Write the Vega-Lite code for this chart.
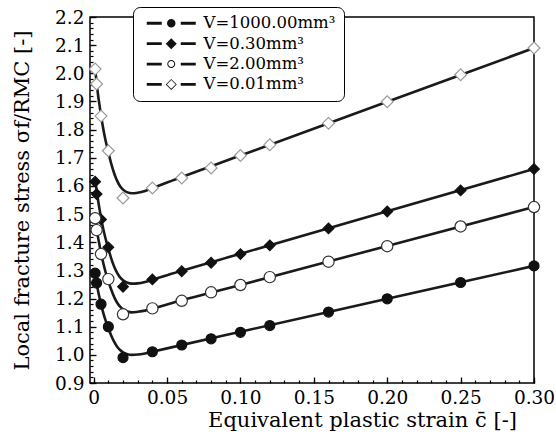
{
  "$schema": "https://vega.github.io/schema/vega-lite/v6.json",
  "width": 444,
  "height": 366,
  "autosize": "none",
  "padding": {"left": 90, "top": 17, "right": 22, "bottom": 56},
  "background": "white",
  "config": {
    "view": {"stroke": "black", "strokeWidth": 1.5},
    "font": "DejaVu Serif",
    "axis": {
      "labelFont": "DejaVu Serif",
      "labelFontSize": 18.5,
      "labelColor": "black",
      "titleFont": "DejaVu Serif",
      "titleFontSize": 21,
      "titleFontWeight": "normal",
      "titleColor": "black",
      "tickColor": "black",
      "grid": false,
      "domain": false
    }
  },
  "datasets": {
    "curves": [
      {"volume": "1000.00", "x": 0.001, "y": 1.286}, {"volume": "1000.00", "x": 0.002, "y": 1.255}, {"volume": "1000.00", "x": 0.003, "y": 1.227}, {"volume": "1000.00", "x": 0.004, "y": 1.203}, {"volume": "1000.00", "x": 0.005, "y": 1.180}, {"volume": "1000.00", "x": 0.0065, "y": 1.150}, {"volume": "1000.00", "x": 0.008, "y": 1.124}, {"volume": "1000.00", "x": 0.01, "y": 1.095}, {"volume": "1000.00", "x": 0.012, "y": 1.068}, {"volume": "1000.00", "x": 0.014, "y": 1.046}, {"volume": "1000.00", "x": 0.016, "y": 1.029}, {"volume": "1000.00", "x": 0.018, "y": 1.017}, {"volume": "1000.00", "x": 0.02, "y": 1.009}, {"volume": "1000.00", "x": 0.023, "y": 1.002}, {"volume": "1000.00", "x": 0.026, "y": 1.000}, {"volume": "1000.00", "x": 0.03, "y": 1.001}, {"volume": "1000.00", "x": 0.035, "y": 1.005}, {"volume": "1000.00", "x": 0.04, "y": 1.011}, {"volume": "1000.00", "x": 0.05, "y": 1.023}, {"volume": "1000.00", "x": 0.1, "y": 1.082}, {"volume": "1000.00", "x": 0.2, "y": 1.199}, {"volume": "1000.00", "x": 0.3, "y": 1.316},
      {"volume": "0.30", "x": 0.001, "y": 1.625}, {"volume": "0.30", "x": 0.002, "y": 1.585}, {"volume": "0.30", "x": 0.003, "y": 1.549}, {"volume": "0.30", "x": 0.004, "y": 1.517}, {"volume": "0.30", "x": 0.005, "y": 1.487}, {"volume": "0.30", "x": 0.0065, "y": 1.448}, {"volume": "0.30", "x": 0.008, "y": 1.415}, {"volume": "0.30", "x": 0.01, "y": 1.377}, {"volume": "0.30", "x": 0.012, "y": 1.342}, {"volume": "0.30", "x": 0.014, "y": 1.313}, {"volume": "0.30", "x": 0.016, "y": 1.291}, {"volume": "0.30", "x": 0.018, "y": 1.275}, {"volume": "0.30", "x": 0.02, "y": 1.265}, {"volume": "0.30", "x": 0.023, "y": 1.256}, {"volume": "0.30", "x": 0.026, "y": 1.253}, {"volume": "0.30", "x": 0.03, "y": 1.254}, {"volume": "0.30", "x": 0.035, "y": 1.259}, {"volume": "0.30", "x": 0.04, "y": 1.267}, {"volume": "0.30", "x": 0.05, "y": 1.283}, {"volume": "0.30", "x": 0.1, "y": 1.359}, {"volume": "0.30", "x": 0.2, "y": 1.510}, {"volume": "0.30", "x": 0.3, "y": 1.660},
      {"volume": "2.00", "x": 0.001, "y": 1.486}, {"volume": "2.00", "x": 0.002, "y": 1.449}, {"volume": "2.00", "x": 0.003, "y": 1.417}, {"volume": "2.00", "x": 0.004, "y": 1.389}, {"volume": "2.00", "x": 0.005, "y": 1.362}, {"volume": "2.00", "x": 0.0065, "y": 1.327}, {"volume": "2.00", "x": 0.008, "y": 1.296}, {"volume": "2.00", "x": 0.01, "y": 1.262}, {"volume": "2.00", "x": 0.012, "y": 1.231}, {"volume": "2.00", "x": 0.014, "y": 1.205}, {"volume": "2.00", "x": 0.016, "y": 1.185}, {"volume": "2.00", "x": 0.018, "y": 1.171}, {"volume": "2.00", "x": 0.02, "y": 1.162}, {"volume": "2.00", "x": 0.023, "y": 1.154}, {"volume": "2.00", "x": 0.026, "y": 1.151}, {"volume": "2.00", "x": 0.03, "y": 1.153}, {"volume": "2.00", "x": 0.035, "y": 1.157}, {"volume": "2.00", "x": 0.04, "y": 1.164}, {"volume": "2.00", "x": 0.05, "y": 1.179}, {"volume": "2.00", "x": 0.1, "y": 1.248}, {"volume": "2.00", "x": 0.2, "y": 1.387}, {"volume": "2.00", "x": 0.3, "y": 1.525},
      {"volume": "0.01", "x": 0.001, "y": 2.015}, {"volume": "0.01", "x": 0.002, "y": 1.967}, {"volume": "0.01", "x": 0.003, "y": 1.923}, {"volume": "0.01", "x": 0.004, "y": 1.886}, {"volume": "0.01", "x": 0.005, "y": 1.851}, {"volume": "0.01", "x": 0.0065, "y": 1.804}, {"volume": "0.01", "x": 0.008, "y": 1.764}, {"volume": "0.01", "x": 0.01, "y": 1.720}, {"volume": "0.01", "x": 0.012, "y": 1.678}, {"volume": "0.01", "x": 0.014, "y": 1.644}, {"volume": "0.01", "x": 0.016, "y": 1.618}, {"volume": "0.01", "x": 0.018, "y": 1.599}, {"volume": "0.01", "x": 0.02, "y": 1.587}, {"volume": "0.01", "x": 0.023, "y": 1.577}, {"volume": "0.01", "x": 0.026, "y": 1.574}, {"volume": "0.01", "x": 0.03, "y": 1.576}, {"volume": "0.01", "x": 0.035, "y": 1.582}, {"volume": "0.01", "x": 0.04, "y": 1.592}, {"volume": "0.01", "x": 0.05, "y": 1.612}, {"volume": "0.01", "x": 0.1, "y": 1.708}, {"volume": "0.01", "x": 0.2, "y": 1.899}, {"volume": "0.01", "x": 0.3, "y": 2.090}
    ],
    "markers": [
      {"volume": "1000.00", "x": 0.001, "y": 1.29}, {"volume": "1000.00", "x": 0.002, "y": 1.255}, {"volume": "1000.00", "x": 0.005, "y": 1.18}, {"volume": "1000.00", "x": 0.01, "y": 1.10}, {"volume": "1000.00", "x": 0.02, "y": 0.99}, {"volume": "1000.00", "x": 0.04, "y": 1.011}, {"volume": "1000.00", "x": 0.06, "y": 1.035}, {"volume": "1000.00", "x": 0.08, "y": 1.057}, {"volume": "1000.00", "x": 0.10, "y": 1.08}, {"volume": "1000.00", "x": 0.12, "y": 1.104}, {"volume": "1000.00", "x": 0.16, "y": 1.152}, {"volume": "1000.00", "x": 0.20, "y": 1.199}, {"volume": "1000.00", "x": 0.25, "y": 1.257}, {"volume": "1000.00", "x": 0.30, "y": 1.316},
      {"volume": "0.30", "x": 0.001, "y": 1.615}, {"volume": "0.30", "x": 0.002, "y": 1.571}, {"volume": "0.30", "x": 0.005, "y": 1.481}, {"volume": "0.30", "x": 0.01, "y": 1.382}, {"volume": "0.30", "x": 0.02, "y": 1.242}, {"volume": "0.30", "x": 0.04, "y": 1.268}, {"volume": "0.30", "x": 0.06, "y": 1.297}, {"volume": "0.30", "x": 0.08, "y": 1.327}, {"volume": "0.30", "x": 0.10, "y": 1.358}, {"volume": "0.30", "x": 0.12, "y": 1.389}, {"volume": "0.30", "x": 0.16, "y": 1.449}, {"volume": "0.30", "x": 0.20, "y": 1.509}, {"volume": "0.30", "x": 0.25, "y": 1.584}, {"volume": "0.30", "x": 0.30, "y": 1.66},
      {"volume": "2.00", "x": 0.001, "y": 1.485}, {"volume": "2.00", "x": 0.002, "y": 1.443}, {"volume": "2.00", "x": 0.005, "y": 1.358}, {"volume": "2.00", "x": 0.01, "y": 1.269}, {"volume": "2.00", "x": 0.02, "y": 1.144}, {"volume": "2.00", "x": 0.04, "y": 1.165}, {"volume": "2.00", "x": 0.06, "y": 1.192}, {"volume": "2.00", "x": 0.08, "y": 1.222}, {"volume": "2.00", "x": 0.10, "y": 1.248}, {"volume": "2.00", "x": 0.12, "y": 1.276}, {"volume": "2.00", "x": 0.16, "y": 1.331}, {"volume": "2.00", "x": 0.20, "y": 1.386}, {"volume": "2.00", "x": 0.25, "y": 1.456}, {"volume": "2.00", "x": 0.30, "y": 1.525},
      {"volume": "0.01", "x": 0.001, "y": 2.015}, {"volume": "0.01", "x": 0.002, "y": 1.962}, {"volume": "0.01", "x": 0.005, "y": 1.848}, {"volume": "0.01", "x": 0.01, "y": 1.725}, {"volume": "0.01", "x": 0.02, "y": 1.557}, {"volume": "0.01", "x": 0.04, "y": 1.593}, {"volume": "0.01", "x": 0.06, "y": 1.628}, {"volume": "0.01", "x": 0.08, "y": 1.664}, {"volume": "0.01", "x": 0.10, "y": 1.708}, {"volume": "0.01", "x": 0.12, "y": 1.746}, {"volume": "0.01", "x": 0.16, "y": 1.823}, {"volume": "0.01", "x": 0.20, "y": 1.899}, {"volume": "0.01", "x": 0.25, "y": 1.995}, {"volume": "0.01", "x": 0.30, "y": 2.09}
    ]
  },
  "layer": [
    {
      "data": {"name": "markers"},
      "mark": {"type": "point", "opacity": 0},
      "encoding": {
        "x": {"field": "x", "type": "quantitative", "scale": {"domain": [-0.0025, 0.30], "nice": false, "zero": false},
          "axis": {"orient": "bottom", "tickCount": 30, "labels": false, "title": null, "tickSize": 3, "offset": -3, "tickWidth": 1.2}},
        "y": {"field": "y", "type": "quantitative", "scale": {"domain": [0.9, 2.2], "nice": false, "zero": false},
          "axis": {"orient": "left", "tickCount": 60, "labels": false, "title": null, "tickSize": 3, "offset": -3, "tickWidth": 1.2}}
      }
    },
    {
      "data": {"name": "curves"},
      "mark": {"type": "line", "stroke": "#1a1a1a", "strokeWidth": 2.6, "interpolate": "monotone"},
      "encoding": {
        "x": {"field": "x", "type": "quantitative",
          "axis": {"orient": "bottom", "values": [0, 0.05, 0.1, 0.15, 0.2, 0.25, 0.3], "labelExpr": "datum.value == 0 ? '0' : format(datum.value, '.2f')", "tickSize": 6, "offset": -6, "tickWidth": 1.3, "labelPadding": 5, "labelFlush": false, "title": "Equivalent plastic strain  c\u0304 [-]", "titleX": 272, "titlePadding": 3}},
        "y": {"field": "y", "type": "quantitative",
          "axis": {"orient": "left", "values": [0.9, 1.0, 1.1, 1.2, 1.3, 1.4, 1.5, 1.6, 1.7, 1.8, 1.9, 2.0, 2.1, 2.2], "format": ".1f", "tickSize": 6, "offset": -6, "tickWidth": 1.3, "labelPadding": 6, "labelFlush": false, "title": "Local fracture stress σf/RMC [-]", "titlePadding": 22}},
        "detail": {"field": "volume"}
      }
    },
    {
      "data": {"name": "markers"},
      "mark": {"type": "point", "opacity": 1, "strokeWidth": 1.2, "filled": true},
      "encoding": {
        "x": {"field": "x", "type": "quantitative", "axis": null},
        "y": {"field": "y", "type": "quantitative", "axis": null},
        "shape": {"field": "volume", "type": "nominal", "legend": null,
          "scale": {"domain": ["1000.00", "0.30", "2.00", "0.01"], "range": ["circle", "diamond", "circle", "diamond"]}},
        "fill": {"field": "volume", "type": "nominal", "legend": null,
          "scale": {"domain": ["1000.00", "0.30", "2.00", "0.01"], "range": ["#111111", "#111111", "#ffffff", "#ffffff"]}},
        "stroke": {"field": "volume", "type": "nominal", "legend": null,
          "scale": {"domain": ["1000.00", "0.30", "2.00", "0.01"], "range": ["#111111", "#111111", "#333333", "#9a9a9a"]}},
        "size": {"field": "volume", "type": "nominal", "legend": null,
          "scale": {"domain": ["1000.00", "0.30", "2.00", "0.01"], "range": [100, 140, 110, 140]}}
      }
    },
    {
      "data": {"name": "markers"},
      "transform": [{"filter": "false"}],
      "mark": {"type": "point", "filled": true, "color": "#111111", "opacity": 1, "size": 100, "strokeWidth": 0},
      "encoding": {
        "x": {"field": "x", "type": "quantitative", "axis": null},
        "y": {"field": "y", "type": "quantitative", "axis": null},
        "shape": {"field": "volume", "type": "nominal",
          "scale": {"domain": ["1000.00", "0.30", "2.00", "0.01"], "range": [
            "M-4.9,-0.28H-1.9V0.28H-4.9Z M1.9,-0.28H4.9V0.28H1.9Z M-0.85,0A0.85,0.85 0 1,0 0.85,0A0.85,0.85 0 1,0 -0.85,0Z",
            "M-4.9,-0.28H-1.9V0.28H-4.9Z M1.9,-0.28H4.9V0.28H1.9Z M0,-1.1L1.1,0L0,1.1L-1.1,0Z",
            "M-4.9,-0.28H-1.9V0.28H-4.9Z M1.9,-0.28H4.9V0.28H1.9Z M-0.8,0A0.8,0.8 0 1,0 0.8,0A0.8,0.8 0 1,0 -0.8,0Z M-0.6,0A0.6,0.6 0 1,1 0.6,0A0.6,0.6 0 1,1 -0.6,0Z",
            "M-4.9,-0.28H-1.9V0.28H-4.9Z M1.9,-0.28H4.9V0.28H1.9Z M0,-1.1L1.1,0L0,1.1L-1.1,0Z M0,-0.88L-0.88,0L0,0.88L0.88,0Z"
          ]},
          "legend": {
            "title": null, "orient": "none", "legendX": 43, "legendY": -10,
            "strokeColor": "black", "fillColor": "white", "cornerRadius": 7, "padding": 8,
            "labelFont": "DejaVu Serif", "labelFontSize": 16.5, "labelColor": "black",
            "labelExpr": "'V=' + datum.label + 'mm³'",
            "symbolSize": 100, "symbolStrokeWidth": 0, "symbolOffset": 22, "labelOffset": 24, "rowPadding": 3.4
          }
        }
      }
    }
  ],
  "resolve": {"axis": {"x": "independent", "y": "independent"}, "scale": {"shape": "independent"}}
}
